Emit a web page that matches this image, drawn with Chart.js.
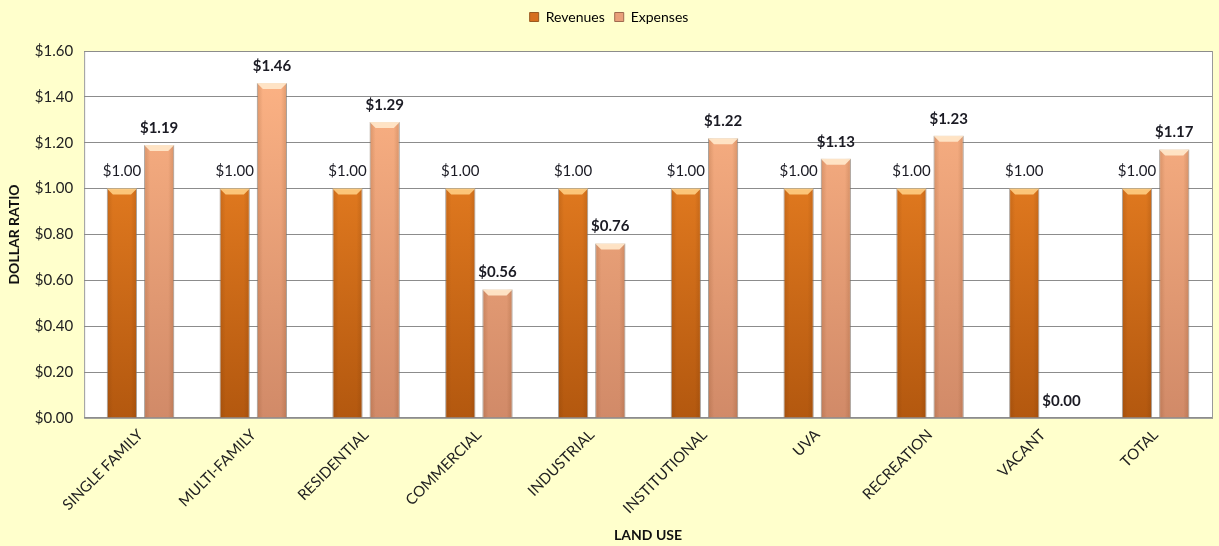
<!DOCTYPE html>
<html>
<head>
<meta charset="utf-8">
<script src="https://cdn.jsdelivr.net/npm/chart.js@4"></script>
<style>
    body { margin: 0; background: #FFFFCC; }
    #wrap { width: 1219px; height: 546px; position: relative; }
</style>
</head>
<body>
<div id="wrap"><canvas id="landUseChart"></canvas></div>
<script>
const categories = ['SINGLE FAMILY', 'MULTI-FAMILY', 'RESIDENTIAL', 'COMMERCIAL', 'INDUSTRIAL', 'INSTITUTIONAL', 'UVA', 'RECREATION', 'VACANT', 'TOTAL'];
const revenues = [1.00, 1.00, 1.00, 1.00, 1.00, 1.00, 1.00, 1.00, 1.00, 1.00];
const expenses = [1.19, 1.46, 1.29, 0.56, 0.76, 1.22, 1.13, 1.23, 0.00, 1.17];
const yTicks = [0, 0.2, 0.4, 0.6, 0.8, 1.0, 1.2, 1.4, 1.6];

const FONT = 'Lato, "Open Sans", sans-serif';

function money(v) {
    return '$' + v.toFixed(2);
}

// vertical gradient per series, built on the chart area
function barGradient(top, bottom) {
    return (context) => {
        const { chart } = context;
        const area = chart.chartArea;
        if (!area) return top;
        const g = chart.ctx.createLinearGradient(0, area.top, 0, area.bottom);
        g.addColorStop(0, top);
        g.addColorStop(1, bottom);
        return g;
    };
}

// light bevel on top of each bar + darker sides
const bevelPlugin = {
    id: 'bevel',
    afterDatasetsDraw(chart) {
        const ctx = chart.ctx;
        chart.data.datasets.forEach((ds, i) => {
            const meta = chart.getDatasetMeta(i);
            meta.data.forEach((bar) => {
                const h = bar.base - bar.y;
                if (h < 6) return;
                const half = bar.width / 2;
                ctx.save();
                const side = ctx.createLinearGradient(bar.x - half, 0, bar.x + half, 0);
                side.addColorStop(0, 'rgba(90,40,0,0.18)');
                side.addColorStop(0.2, 'rgba(90,40,0,0)');
                side.addColorStop(0.8, 'rgba(90,40,0,0)');
                side.addColorStop(1, 'rgba(90,40,0,0.18)');
                ctx.fillStyle = side;
                ctx.fillRect(bar.x - half, bar.y, bar.width, h);
                ctx.fillStyle = i === 0 ? 'rgba(255,205,130,0.9)' : 'rgba(255,230,200,0.95)';
                ctx.beginPath();
                ctx.moveTo(bar.x - half, bar.y);
                ctx.lineTo(bar.x + half, bar.y);
                ctx.lineTo(bar.x + half - 6, bar.y + 6);
                ctx.lineTo(bar.x - half + 6, bar.y + 6);
                ctx.closePath();
                ctx.fill();
                ctx.restore();
            });
        });
    }
};

const valueLabels = {
    id: 'valueLabels',
    afterDatasetsDraw(chart) {
        const ctx = chart.ctx;
        chart.data.datasets.forEach((ds, i) => {
            const meta = chart.getDatasetMeta(i);
            meta.data.forEach((bar, j) => {
                ctx.save();
                ctx.font = (i === 1 ? 'bold ' : '') + '15px ' + FONT;
                ctx.fillStyle = '#1b1b24';
                ctx.textAlign = 'center';
                ctx.textBaseline = 'middle';
                ctx.fillText(money(ds.data[j]), bar.x, bar.y - 17);
                ctx.restore();
            });
        });
    }
};

const plotBackground = {
    id: 'plotBackground',
    beforeInit(chart) {
        // extra space under the legend
        const fit = chart.legend.fit;
        chart.legend.fit = function () {
            fit.call(this);
            this.height += 17;
        };
    },
    beforeDraw(chart) {
        const { ctx, chartArea: a } = chart;
        ctx.save();
        ctx.fillStyle = '#FFFFFF';
        ctx.fillRect(a.left, a.top, a.right - a.left, a.bottom - a.top);
        ctx.strokeStyle = '#9a9a9a';
        ctx.lineWidth = 1;
        ctx.strokeRect(a.left + 0.5, a.top + 0.5, a.right - a.left, a.bottom - a.top);
        ctx.restore();
    }
};

const ctx = document.getElementById('landUseChart').getContext('2d');
new Chart(ctx, {
    type: 'bar',
    data: {
        labels: categories,
        datasets: [{
            label: 'Revenues',
            data: revenues,
            backgroundColor: barGradient('#F98B28', '#B3580F'),
            borderColor: 'rgba(140,140,140,0.6)',
            borderWidth: 1,
            categoryPercentage: 0.66,
            barPercentage: 0.81
        }, {
            label: 'Expenses',
            data: expenses,
            backgroundColor: barGradient('#FFB586', '#D18A68'),
            borderColor: 'rgba(140,140,140,0.6)',
            borderWidth: 1,
            categoryPercentage: 0.66,
            barPercentage: 0.81
        }]
    },
    options: {
        responsive: true,
        maintainAspectRatio: false,
        animation: false,
        layout: { padding: { top: 0, right: 7, left: 6, bottom: 2 } },
        plugins: {
            legend: {
                position: 'top',
                labels: {
                    boxWidth: 9,
                    boxHeight: 9,
                    padding: 10,
                    color: '#222',
                    font: { family: FONT, size: 14 },
                    generateLabels: () => [
                        { text: 'Revenues', fillStyle: '#D66F1E', strokeStyle: '#9a5a20', lineWidth: 1 },
                        { text: 'Expenses', fillStyle: '#E9A07A', strokeStyle: '#a06a50', lineWidth: 1 }
                    ]
                }
            },
            tooltip: { enabled: false }
        },
        scales: {
            x: {
                grid: { display: false, drawTicks: false },
                border: { display: false },
                ticks: {
                    color: '#222',
                    font: { family: FONT, size: 15 },
                    minRotation: 45,
                    maxRotation: 45,
                    padding: 8
                },
                title: {
                    display: true,
                    text: 'LAND USE',
                    color: '#111',
                    font: { family: FONT, size: 14, weight: 'bold' },
                    padding: { top: 2, bottom: 0 }
                }
            },
            y: {
                min: 0,
                max: 1.6,
                afterBuildTicks: (axis) => { axis.ticks = yTicks.map(v => ({ value: v })); },
                grid: { color: '#8c8c8c', drawTicks: false, lineWidth: 1 },
                border: { display: false },
                ticks: {
                    color: '#222',
                    font: { family: FONT, size: 15 },
                    padding: 11,
                    callback: (v) => money(v)
                },
                title: {
                    display: true,
                    text: 'DOLLAR RATIO',
                    color: '#111',
                    font: { family: FONT, size: 14, weight: 'bold' },
                    padding: { top: 0, bottom: 1 }
                }
            }
        }
    },
    plugins: [plotBackground, bevelPlugin, valueLabels]
});
</script>
</body>
</html>
